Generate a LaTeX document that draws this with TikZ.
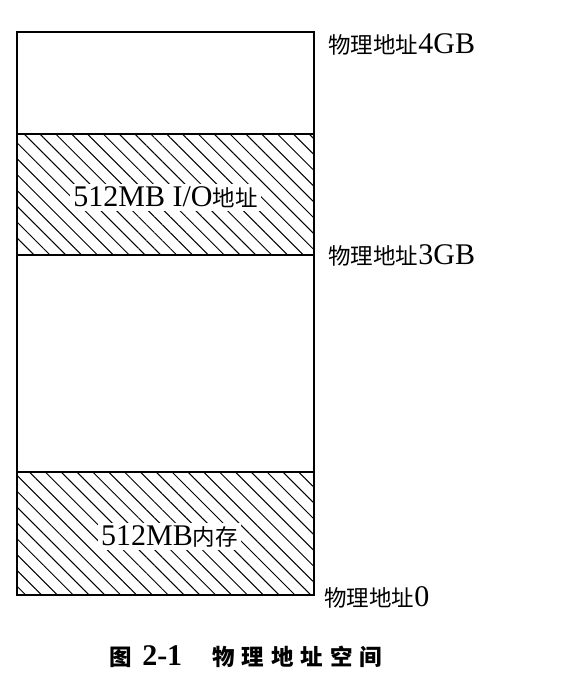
\documentclass[tikz,border=0pt]{standalone}
\usepackage{fontspec}
\setmainfont{Liberation Serif}
\newfontfamily\cjk[Scale=0.75]{Noto Sans CJK SC}
\usetikzlibrary{positioning, patterns.meta}
\tikzset{
  region/.style={rectangle, draw=black, line width=0.8pt,
    minimum width=148.5pt, inner sep=0pt, outer sep=0pt},
  hatched/.style={region,
    pattern={Lines[angle=-45, distance=5.6pt, line width=0.5pt]}},
  addr/.style={anchor=west, inner sep=0pt, font=\fontsize{15}{17}\selectfont},
  tag/.style={fill=white, inner sep=1.5pt, font=\fontsize{15}{17}\selectfont}
}

\begin{document}
\begin{tikzpicture}[x=0.5pt, y=-0.5pt]
  \useasboundingbox (0,0) rectangle (578,696);

  % memory map, from 4GB down to 0
  \node (top) [region, minimum height=51pt, anchor=north west] at (17,32) {};
  \node (io) [hatched, minimum height=60.5pt, below=0pt of top] {};
  \node (mid) [region, minimum height=108.5pt, below=0pt of io] {};
  \node (mem) [hatched, minimum height=61.5pt, below=0pt of mid] {};

  \node (io-tag) [tag] at ([yshift=-1.5pt]io.center) {512MB I/O{\cjk 地址}};
  \node (mem-tag) [tag] at ([xshift=2pt, yshift=-1.5pt]mem.center) {512MB{\cjk 内存}};

  % addresses
  \node (a4) [addr, anchor=north west] at ([xshift=7pt, yshift=-0.5pt]top.north east) {{\cjk 物理地址}4GB};
  \node (a3) [addr] at ([xshift=7pt]io.south east) {{\cjk 物理地址}3GB};
  \node (a0) [addr] at ([xshift=5pt, yshift=-1pt]mem.south east) {{\cjk 物理地址}0};

  \node (caption) at (246,657) {\bfseries\fontsize{15}{17}\selectfont
    {\cjk 图}\hspace{5pt}2-1\hspace{15pt}{\cjk 物\hspace{3.5pt}理\hspace{3.5pt}地\hspace{3.5pt}址\hspace{3.5pt}空\hspace{3.5pt}间}};
\end{tikzpicture}
\end{document}
